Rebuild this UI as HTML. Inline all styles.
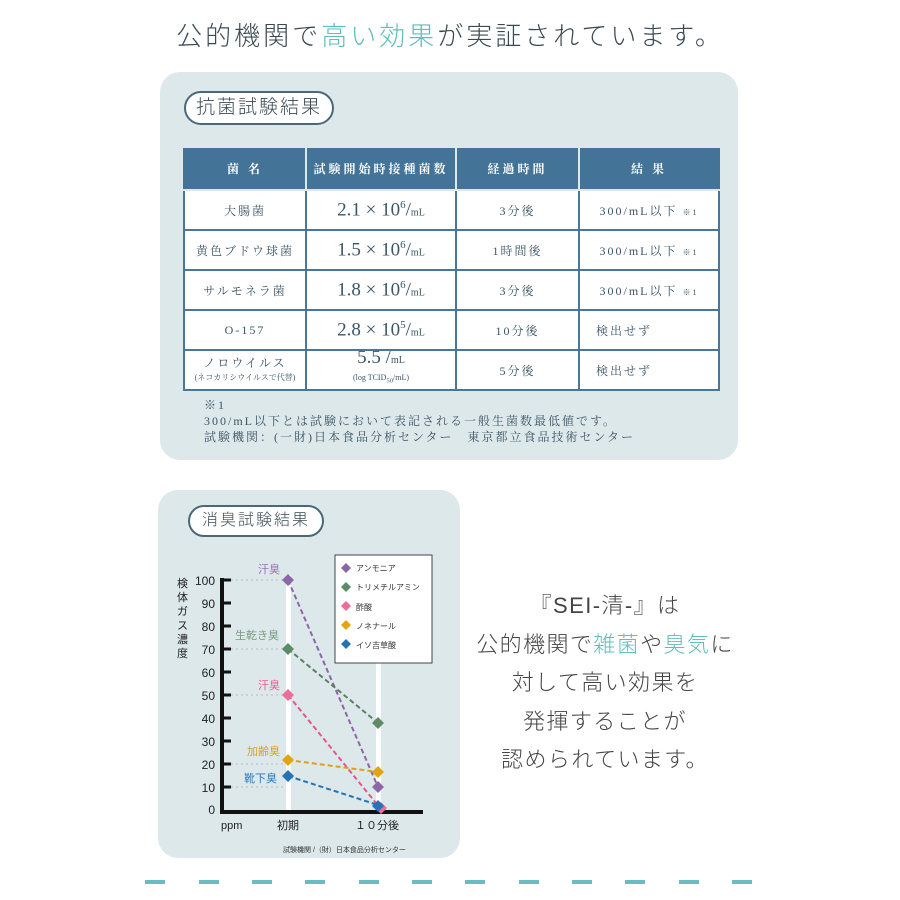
<!DOCTYPE html>
<html><head><meta charset="utf-8"><style>
body{margin:0;width:900px;height:900px;background:#fff;position:relative;overflow:hidden;font-family:"Liberation Serif","Noto Serif CJK SC","Noto Sans CJK JP",serif;color:#3d5566}
.abs{position:absolute}
.title{left:0;width:900px;top:16px;text-align:center;font-family:"Liberation Sans","Noto Sans CJK JP",sans-serif;font-size:26px;letter-spacing:3px;color:#3b4a52;font-weight:300}
.t{color:#5fbdbd}
.panel{background:#dde8ea;border-radius:20px}
.pill{border:2px solid #4a6878;border-radius:18px;background:#fff;font-family:"Liberation Sans","Noto Sans CJK JP",sans-serif;font-size:19px;color:#3b4a52;text-align:center;letter-spacing:2px;font-weight:300}
table{border-collapse:collapse;position:absolute;left:183px;top:148px;width:535px;table-layout:fixed}
td{border:2px solid #4a7797;background:#fff;text-align:center;font-size:12px;letter-spacing:2px;height:38px;padding:0;color:#3b5568;overflow:hidden;white-space:nowrap}
th{background:#437497;color:#fff;border:2px solid #dde8ea;border-top:none;font-size:12px;letter-spacing:3px;height:41px;padding:0}
th:first-child{border-left:2px solid #437497}th:last-child{border-right:2px solid #437497}
.big{font-size:19px;letter-spacing:0}
.big sup{font-size:11px}
.big small{font-size:10px}
.note{left:204px;top:397px;font-size:12px;line-height:16px;letter-spacing:2px;color:#3d5566}
.right{left:450px;width:310px;top:587px;text-align:center;font-family:"Liberation Sans","Noto Sans CJK JP",sans-serif;font-size:22px;line-height:38.5px;letter-spacing:1.4px;color:#444;font-weight:300;white-space:nowrap}
</style></head><body>
<div class="abs title">公的機関で<span class="t">高い効果</span>が実証されています。</div>
<div class="abs panel" style="left:160px;top:72px;width:578px;height:388px"></div>
<div class="abs pill" style="left:184px;top:91px;width:146px;height:30px;line-height:30px">抗菌試験結果</div>
<table>
<colgroup><col style="width:122px"><col style="width:150px"><col style="width:123px"><col style="width:140px"></colgroup>
<tr><th>菌 名</th><th>試験開始時接種菌数</th><th>経過時間</th><th>結 果</th></tr>
<tr><td>大腸菌</td><td class="big">2.1 × 10<sup>6</sup>/<small>mL</small></td><td>3分後</td><td>300/mL以下 <small style="font-size:8px">※1</small></td></tr>
<tr><td>黄色ブドウ球菌</td><td class="big">1.5 × 10<sup>6</sup>/<small>mL</small></td><td>1時間後</td><td>300/mL以下 <small style="font-size:8px">※1</small></td></tr>
<tr><td>サルモネラ菌</td><td class="big">1.8 × 10<sup>6</sup>/<small>mL</small></td><td>3分後</td><td>300/mL以下 <small style="font-size:8px">※1</small></td></tr>
<tr><td>O-157</td><td class="big">2.8 × 10<sup>5</sup>/<small>mL</small></td><td>10分後</td><td style="text-align:left;padding-left:16px">検出せず</td></tr>
<tr><td style="line-height:13px">ノロウイルス<br><span style="font-size:8px;letter-spacing:0">(ネコカリシウイルスで代替)</span></td><td class="big" style="line-height:14px">5.5 /<small>mL</small><br><span style="font-size:8px">(log TCID<sub>50</sub>/mL)</span></td><td>5分後</td><td style="text-align:left;padding-left:16px">検出せず</td></tr>
</table>
<div class="abs note">※1<br>300/mL以下とは試験において表記される一般生菌数最低値です。<br>試験機関：(一財)日本食品分析センター　東京都立食品技術センター</div>
<div class="abs panel" style="left:158px;top:490px;width:302px;height:368px"></div>
<div class="abs pill" style="left:188px;top:505px;width:132px;height:28px;line-height:28px;font-size:16px">消臭試験結果</div>
<svg class="abs" style="left:0;top:0" width="900" height="900" font-family="Liberation Sans,Noto Sans CJK JP,sans-serif">
<g stroke="#bbb" stroke-dasharray="2,3" stroke-width="1">
<line x1="226" y1="580" x2="286" y2="580"/><line x1="226" y1="649" x2="286" y2="649"/><line x1="226" y1="695" x2="286" y2="695"/><line x1="226" y1="764" x2="286" y2="764"/><line x1="226" y1="787" x2="286" y2="787"/>
</g>
<rect x="286" y="575" width="5" height="237" fill="#fff"/><rect x="376" y="650" width="5" height="162" fill="#fff"/>
<g stroke="#111" stroke-width="4"><line x1="222" y1="578" x2="222" y2="812"/><line x1="220" y1="812" x2="423" y2="812"/></g>
<g stroke="#111" stroke-width="3">
<line x1="222" y1="580" x2="231" y2="580"/><line x1="222" y1="603" x2="231" y2="603"/><line x1="222" y1="626" x2="231" y2="626"/><line x1="222" y1="649" x2="231" y2="649"/><line x1="222" y1="672" x2="231" y2="672"/><line x1="222" y1="695" x2="231" y2="695"/><line x1="222" y1="718" x2="231" y2="718"/><line x1="222" y1="741" x2="231" y2="741"/><line x1="222" y1="764" x2="231" y2="764"/><line x1="222" y1="787" x2="231" y2="787"/></g>
<g font-size="12" fill="#222" text-anchor="end">
<text x="215" y="585">100</text><text x="215" y="608">90</text><text x="215" y="631">80</text><text x="215" y="654">70</text><text x="215" y="677">60</text><text x="215" y="700">50</text><text x="215" y="723">40</text><text x="215" y="746">30</text><text x="215" y="769">20</text><text x="215" y="792">10</text><text x="215" y="814">0</text></g>
<g font-size="11" fill="#222"><text x="177" y="587">検</text><text x="177" y="601">体</text><text x="177" y="615">ガ</text><text x="177" y="629">ス</text><text x="177" y="643">濃</text><text x="177" y="657">度</text>
<text x="221" y="829">ppm</text><text x="277" y="829">初期</text><text x="355" y="829">１０分後</text></g>
<text x="283" y="852" font-size="7" fill="#333">試験機関 /（財）日本食品分析センター</text>
<g font-size="11"><text x="258" y="573" fill="#9a72b8">汗臭</text><text x="235" y="639" fill="#7a9a7e">生乾き臭</text><text x="258" y="689" fill="#e85f90">汗臭</text><text x="247" y="755" fill="#d9a21a">加齢臭</text><text x="244" y="782" fill="#2f78b8">靴下臭</text></g>
<g stroke-dasharray="5,3" stroke-width="2" fill="none">
<line x1="288" y1="580" x2="378" y2="787" stroke="#8d66a8"/>
<line x1="288" y1="649" x2="378" y2="723" stroke="#5b8063"/>
<line x1="288" y1="695" x2="380" y2="808" stroke="#e8558a"/>
<line x1="288" y1="760" x2="378" y2="772" stroke="#d9a21a"/>
<line x1="288" y1="776" x2="378" y2="805" stroke="#2672b5"/></g>
<g>
<path d="M288 574l6 6-6 6-6-6z" fill="#8d66a8"/><path d="M378 781l6 6-6 6-6-6z" fill="#8d66a8"/>
<path d="M288 643l6 6-6 6-6-6z" fill="#5f8a68"/><path d="M378 717l6 6-6 6-6-6z" fill="#5f8a68"/>
<path d="M288 689l6 6-6 6-6-6z" fill="#ef6b9a"/><path d="M381 802l6 6-6 6-6-6z" fill="#ef6b9a"/>
<path d="M288 754l6 6-6 6-6-6z" fill="#e0a510"/><path d="M378 766l6 6-6 6-6-6z" fill="#e0a510"/>
<path d="M288 770l6 6-6 6-6-6z" fill="#2672b5"/><path d="M378 800l6 6-6 6-6-6z" fill="#2672b5"/></g>
<rect x="335" y="555" width="97" height="108" fill="#fff" stroke="#444" stroke-width="1"/>
<g font-size="8" fill="#333">
<path d="M346 563l5 5-5 5-5-5z" fill="#8d66a8"/><text x="356" y="571">アンモニア</text>
<path d="M346 582l5 5-5 5-5-5z" fill="#5f8a68"/><text x="356" y="590">トリメチルアミン</text>
<path d="M346 601l5 5-5 5-5-5z" fill="#ef6b9a"/><text x="356" y="610">酢酸</text>
<path d="M346 620l5 5-5 5-5-5z" fill="#e0a510"/><text x="356" y="629">ノネナール</text>
<path d="M346 639l5 5-5 5-5-5z" fill="#2672b5"/><text x="356" y="648">イソ吉草酸</text></g>
<g stroke="#6bbcc0" stroke-width="4">
<line x1="145" y1="882" x2="165" y2="882"/><line x1="199" y1="882" x2="219" y2="882"/><line x1="252" y1="882" x2="272" y2="882"/><line x1="305" y1="882" x2="325" y2="882"/><line x1="359" y1="882" x2="379" y2="882"/><line x1="412" y1="882" x2="432" y2="882"/><line x1="465" y1="882" x2="485" y2="882"/><line x1="519" y1="882" x2="539" y2="882"/><line x1="572" y1="882" x2="592" y2="882"/><line x1="625" y1="882" x2="645" y2="882"/><line x1="679" y1="882" x2="699" y2="882"/><line x1="732" y1="882" x2="752" y2="882"/></g>
</svg>
<div class="abs right">『SEI-清-』は<br>公的機関で<span class="t">雑菌</span>や<span class="t">臭気</span>に<br>対して高い効果を<br>発揮することが<br>認められています。</div>
</body></html>
